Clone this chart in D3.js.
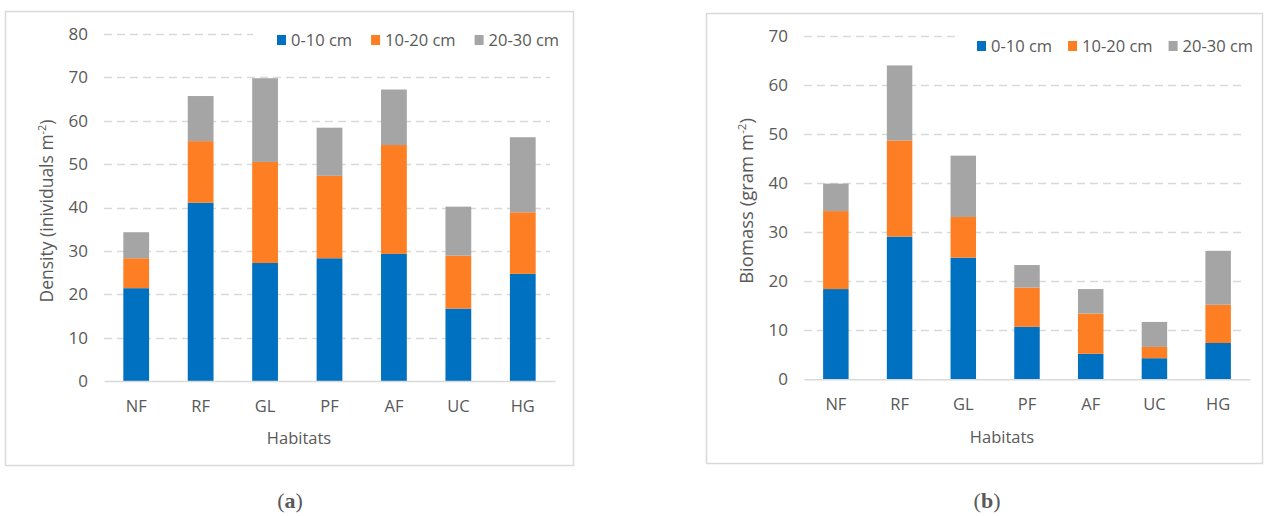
<!DOCTYPE html>
<html>
<head>
<meta charset="utf-8">
<script src="https://cdn.jsdelivr.net/npm/d3@7"></script>
<style>
  html, body { margin: 0; padding: 0; background: #fff; }
  svg { display: block; }
  text { font-family: "Open Sans", "Liberation Sans", sans-serif; fill: #595959; }
</style>
</head>
<body>
<svg id="chart" width="1266" height="516"></svg>
<script>
// ---- data ----
const habitats = ["NF", "RF", "GL", "PF", "AF", "UC", "HG"];
const depthLayers = ["0-10 cm", "10-20 cm", "20-30 cm"];
const layerColors = ["#0070c0", "#fd7e23", "#a5a5a5"];

// Density (individuals m-2) per depth layer
const density0to10  = [21.4, 41.1, 27.2, 28.3, 29.3, 16.7, 24.7];
const density10to20 = [ 6.9, 14.2, 23.3, 19.0, 25.1, 12.2, 14.2];
const density20to30 = [ 6.0, 10.4, 19.3, 11.1, 12.8, 11.3, 17.3];

// Biomass (gram m-2) per depth layer
const biomass0to10  = [18.4, 29.1, 24.8, 10.7, 5.2, 4.3, 7.4];
const biomass10to20 = [15.9, 19.6,  8.3,  8.0, 8.2, 2.3, 7.8];
const biomass20to30 = [ 5.6, 15.3, 12.5,  4.6, 5.0, 5.1, 11.0];

const densityTicks = [0, 10, 20, 30, 40, 50, 60, 70, 80];
const biomassTicks = [0, 10, 20, 30, 40, 50, 60, 70];

const svg = d3.select("#chart");

function drawPanel(opt) {
  const g = svg.append("g");
  // frame
  g.append("rect")
    .attr("x", opt.frame[0] + 0.5).attr("y", opt.frame[1] + 0.5)
    .attr("width", opt.frame[2] - opt.frame[0]).attr("height", opt.frame[3] - opt.frame[1])
    .attr("fill", "#fff").attr("stroke", "#d9d9d9").attr("stroke-width", 1.5);

  const x = d3.scaleBand().domain(habitats)
    .range([opt.plot.left, opt.plot.right])
    .paddingInner(0.6).paddingOuter(0.3);
  const y = d3.scaleLinear().domain([0, d3.max(opt.ticks)])
    .range([opt.plot.bottom, opt.plot.top]);

  // gridlines
  g.append("g").selectAll("line")
    .data(opt.ticks.filter(t => t > 0)).join("line")
    .attr("x1", opt.plot.left).attr("x2", opt.plot.right - 5)
    .attr("y1", d => Math.round(y(d)) + 0.5).attr("y2", d => Math.round(y(d)) + 0.5)
    .attr("stroke", "#d9d9d9").attr("stroke-width", 1.5)
    .attr("stroke-dasharray", "8,5");

  // y tick labels
  const yAxis = d3.axisLeft(y).tickValues(opt.ticks).tickSize(0).tickPadding(16);
  const ya = g.append("g").attr("transform", `translate(${opt.plot.left},0)`).call(yAxis);
  ya.select(".domain").remove();
  ya.selectAll("text").attr("font-size", 17).attr("fill", "#595959")
    .style("font-family", "'Open Sans', sans-serif");

  // stacked bars
  const rows = habitats.map((h, i) => ({
    habitat: h,
    [depthLayers[0]]: opt.layers[0][i],
    [depthLayers[1]]: opt.layers[1][i],
    [depthLayers[2]]: opt.layers[2][i]
  }));
  const stacked = d3.stack().keys(depthLayers)(rows);
  g.append("g").selectAll("g").data(stacked).join("g")
    .attr("fill", (d, i) => layerColors[i])
    .selectAll("rect").data(d => d).join("rect")
    .attr("x", d => x(d.data.habitat))
    .attr("width", x.bandwidth())
    .attr("y", d => y(d[1]))
    .attr("height", d => y(d[0]) - y(d[1]));

  // x axis
  const xAxis = d3.axisBottom(x).tickSize(0).tickPadding(19);
  const xa = g.append("g").attr("transform", `translate(0,${opt.plot.bottom})`).call(xAxis);
  xa.select(".domain").attr("stroke", "#d9d9d9").attr("stroke-width", 1.5);
  xa.selectAll("text").attr("font-size", 16.5).attr("fill", "#595959")
    .style("font-family", "'Open Sans', sans-serif");

  // axis titles
  g.append("text")
    .attr("x", opt.xTitle[0]).attr("y", opt.xTitle[1])
    .attr("text-anchor", "middle").attr("font-size", 16.5)
    .text("Habitats");

  const yt = g.append("text")
    .attr("transform", `translate(${opt.yTitle[0]},${opt.yTitle[1]}) rotate(-90)`)
    .attr("text-anchor", "middle").attr("font-size", opt.yTitleSize);
  yt.append("tspan").text(opt.yLabel + " (" + opt.yUnit + " m");
  yt.append("tspan").attr("font-size", opt.yTitleSize * 0.62).attr("dy", -7).text("-2");
  yt.append("tspan").attr("dy", 7).text(")");

  // legend
  const lg = g.append("g").attr("transform", `translate(${opt.legend[0]},${opt.legend[1]})`);
  lg.append("rect").attr("x", -opt.legendPad).attr("y", -14).attr("width", 300).attr("height", 26)
    .attr("fill", "#fff");
  let cx = 0;
  depthLayers.forEach((name, i) => {
    lg.append("rect").attr("x", cx).attr("y", -5).attr("width", 9).attr("height", 10)
      .attr("fill", layerColors[i]);
    const t = lg.append("text").attr("x", cx + 14).attr("y", 0).attr("dy", "0.35em")
      .attr("font-size", 16.5).text(name);
    cx += 14 + t.node().getComputedTextLength() + opt.legendGap;
  });

  // caption
  const cap = g.append("text")
    .attr("x", opt.caption[0]).attr("y", opt.caption[1])
    .attr("text-anchor", "middle").attr("font-size", 22)
    .style("font-family", "'Liberation Serif', 'DejaVu Serif', serif")
    .attr("fill", "#000");
  cap.append("tspan").text("(");
  cap.append("tspan").attr("font-weight", "bold").text(opt.captionLetter);
  cap.append("tspan").text(")");
}

drawPanel({
  frame: [5, 11, 573, 465],
  plot: { left: 104, right: 555, top: 34, bottom: 381 },
  ticks: densityTicks,
  layers: [density0to10, density10to20, density20to30],
  xTitle: [299, 444],
  yTitle: [53, 211],
  yTitleSize: 17.5,
  yLabel: "Density",
  yUnit: "inividuals",
  legend: [277, 40],
  legendPad: 24,
  legendGap: 19,
  caption: [290, 508],
  captionLetter: "a"
});

drawPanel({
  frame: [706, 13, 1262, 463],
  plot: { left: 804, right: 1250, top: 36, bottom: 379.3 },
  ticks: biomassTicks,
  layers: [biomass0to10, biomass10to20, biomass20to30],
  xTitle: [1002, 443],
  yTitle: [753, 201],
  yTitleSize: 18.5,
  yLabel: "Biomass",
  yUnit: "gram",
  legend: [977, 46],
  legendPad: 17,
  legendGap: 16,
  caption: [987, 508],
  captionLetter: "b"
});
</script>
</body>
</html>
